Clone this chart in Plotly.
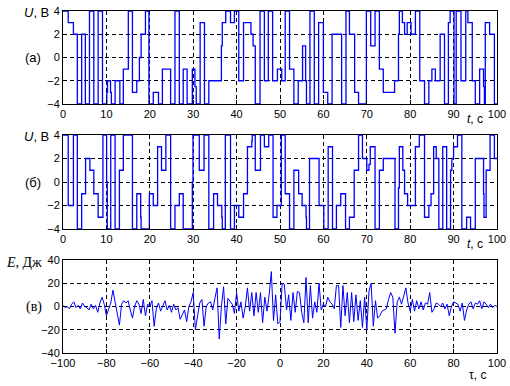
import plotly.graph_objects as go

# ---------------- data ----------------
# panel (а): step signal, change times and levels
t_a = [0, 1.2, 2.4, 3.3, 4.3, 5.15, 6.1, 7.1, 8.1, 9.1, 10.1, 10.25, 10.95, 11.15, 12.0, 13.1, 13.9,
       15.05, 16.0, 17.0, 17.6, 18.0, 19.0, 19.8, 20.8, 22.0, 22.9, 24.8, 25.8, 26.8, 27.7, 28.6, 29.8,
       30.4, 30.7, 31.6, 32.6, 33.6, 36.5, 36.7, 37.5, 38.6, 39.5, 40.5, 41.6, 43.3, 43.8, 44.3, 45.4,
       46.4, 47.3, 48.3, 49.4, 50.4, 51.2, 52.2, 53.2, 54.2, 55.2, 55.9, 56.1, 56.9, 57.9, 58.9, 60.0,
       61.0, 62.0, 64.2, 65.2, 66.0, 67.2, 68.1, 69.9, 70.9, 71.9, 72.9, 73.8, 76.4, 77.3, 77.5, 78.2,
       78.7, 79.3, 80.2, 81.2, 82.2, 83.3, 84.3, 85.0, 85.8, 86.9, 87.9, 88.8, 89.2, 90.1, 90.6, 91.7,
       92.8, 93.3, 94.3, 95.0, 96.0, 96.9, 97.1, 97.3, 98.3, 99.4]
u_a = [4, 3, 2, -4, 2, -4, 4, -4, 4, -4, -3, -2, -3, -4, -2, -4, -1,
       4, -3, -2, 0, 2, 4, -4, -3, -4, -1, -4, 4, -4, -1, -4, -1,
       -2.5, -4, 3, -4, -2, 1, 3, 4, 3, 4, -2, 3, 2, 1, -4, 4,
       -2, 4, -2, -1, -2, 4, -1, -4, -2, 1, -2, -4, 4, -4, 3, -3,
       -4, 2, -4, 4, 2, -3, -4, 4, 1, 4, -1, -3, -2, 2, 4, 3,
       2, 3, 2, 4, -2, -4, -2, -1, -2, 2, -4, 3, 4, -4, 4, -2,
       4, 3, -2, -4, -1, -2.5, -4, 3, 2, -4]

# panel (б)
t_b = [0, 1.2, 2.4, 3.3, 4.3, 5.2, 6.2, 7.1, 8.1, 9.2, 10.05, 10.2, 11.0, 12.0, 13.0, 13.9, 16.0,
       17.0, 17.9, 18.0, 19.9, 20.8, 21.8, 22.7, 23.7, 24.8, 25.8, 26.8, 27.7, 29.8, 29.95, 31.4, 32.5,
       33.6, 34.7, 35.6, 36.6, 36.7, 37.4, 38.6, 39.5, 40.5, 41.6, 42.5, 43.5, 43.6, 44.3, 45.5, 46.4,
       47.4, 48.4, 49.3, 50.3, 51.2, 52.2, 53.2, 54.3, 55.1, 56.0, 56.1, 56.8, 59.0, 60.1, 61.1, 62.1,
       63.0, 64.0, 65.1, 66.0, 67.1, 68.1, 69.0, 70.0, 70.5, 70.8, 71.9, 72.9, 73.8, 76.5, 77.3, 77.5,
       78.3, 78.7, 79.4, 81.2, 82.1, 83.3, 84.3, 84.8, 85.4, 86.0, 86.6, 87.5, 88.4, 89.3, 89.6, 90.0,
       90.9, 91.9, 93.0, 93.9, 95.0, 96.9, 97.0, 97.5, 98.4, 99.4]
u_b = [4, -2, 4, -4, -1, 2, 1, -1, -3, 4, 0, -4, 4, -4, 1, 4, -4,
       -1, -3, -4, -1, -2, 3, 1, 4, -4, -2, -1, -4, 0, 4, 1, 4,
       -4, -1, -2, -3, -4, 4, -4, -2, -3, -1, 3, 3.5, 4, 1, 4, 3,
       4, -3, -2, 4, -1, -4, 1, -1, -2, -3, -4, 2, -2, -4, 3, -4,
       -2, -1, -4, -3, 1, 4, 2, 1, 1.5, 3, -4, 1, 2, -4, -0.5, 3,
       1, -1, -2, 3, 4, -3, -2, -1, 3, 2, -4, 3, -4, 1, 2, 3,
       4, -4, -3, -4, 2, -1, -3, 1, 4, 2]

# panel (в): E(tau), tau = -100..100 step 1
tau = list(range(-100, 101))
E = [1, -1, 0, -2, 2, 4, -1, 1, -2, 3,
     0, -1, -3, 2, -2, 1, -5, 3, 8, 2,
     -8, -2, 3, 14, 3, -7, -16, 2, 5, 3,
     5, -3, -10, 0, 5, 2, -6, 6, -8, 2,
     0, 5, -17, -2, 3, -4, 0, 5, -3, 1,
     -5, 2, -3, -1, -11, -7, -3, -13, 0, 4,
     12, -20, -8, 3, 6, -17, 0, 3, 4, -3,
     7, 16, -28, 0, 17, -15, 7, 4, 2, -6,
     12, -4, 4, -10, 0, 16, -4, 12, -8, 12,
     -5, 12, -14, 8, -4, 10, 30, -12, 10, -15,
     -13, 20, 19, -3, 10, -12, 12, -5, 13, 12,
     -5, -14, 25, -14, 18, -10, 4, -5, 20, -3,
     2, 0, 8, 4, 2, -2, 18, 18, -18, 18,
     -8, 12, -14, 12, -13, 10, -12, 5, -18, 8,
     -20, 13, 20, -17, 5, -10, -8, -4, -3, -2,
     6, 12, 8, -23, 4, 8, 2, 9, 16, 3,
     -4, 6, -4, 5, -2, 4, -3, 3, 2, 12,
     -5, -2, 3, 2, 0, 3, -2, 2, -8, 0,
     4, 3, 2, -4, 3, -12, -3, 2, 4, -2,
     3, 2, 5, -2, 4, 2, -1, 2, -1, 1,
     0]

t_ticks = list(range(0, 101, 10))
u_ticks = [-4, -2, 0, 2, 4]
tau_ticks = list(range(-100, 101, 20))
E_ticks = [-40, -20, 0, 20, 40]

# ---------------- figure ----------------
W, H = 510, 386
def px(x):
    return x / W
def py(y):
    return 1 - y / H

BLUE = "#0000FF"
fig = go.Figure()
fig.add_trace(go.Scatter(x=t_a + [100], y=u_a + [u_a[-1]], mode="lines",
                         line=dict(color=BLUE, width=1.3, shape="hv"), xaxis="x", yaxis="y"))
fig.add_trace(go.Scatter(x=t_b + [100], y=u_b + [u_b[-1]], mode="lines",
                         line=dict(color=BLUE, width=1.3, shape="hv"), xaxis="x2", yaxis="y2"))
fig.add_trace(go.Scatter(x=tau, y=E, mode="lines",
                         line=dict(color=BLUE, width=1.0), xaxis="x3", yaxis="y3"))

tickfont = dict(family="Arial, Liberation Sans, sans-serif", size=11, color="black")
common = dict(showline=True, linecolor="black", linewidth=1, mirror=True,
              showgrid=True, gridcolor="black", gridwidth=1, griddash="4px,3px",
              zeroline=False, ticks="inside", ticklen=4, tickcolor="black",
              tickfont=tickfont, automargin=False)

xdom = [px(63), px(497)]
dom_a = [py(104), py(11)]
dom_b = [py(229), py(135)]
dom_c = [py(353), py(260)]

fig.update_layout(
    width=W, height=H, margin=dict(l=0, r=0, t=0, b=0, autoexpand=False),
    paper_bgcolor="white", plot_bgcolor="white", showlegend=False,
    xaxis=dict(domain=xdom, anchor="y", range=[0, 100], tickvals=t_ticks, **common),
    yaxis=dict(domain=dom_a, anchor="x", range=[-4, 4], tickvals=u_ticks, **common),
    xaxis2=dict(domain=xdom, anchor="y2", range=[0, 100], tickvals=t_ticks, **common),
    yaxis2=dict(domain=dom_b, anchor="x2", range=[-4, 4], tickvals=u_ticks, **common),
    xaxis3=dict(domain=xdom, anchor="y3", range=[-100, 100], tickvals=tau_ticks, **common),
    yaxis3=dict(domain=dom_c, anchor="x3", range=[-40, 40], tickvals=E_ticks, **common),
)

sans = dict(family="Arial, Liberation Sans, sans-serif", size=13, color="black")
serif = dict(family="Times New Roman, Liberation Serif, serif", size=14, color="black")
anns = [
    ("<i>U</i>, В", 51, 12, "right", sans),
    ("(а)", 33, 58, "center", sans),
    ("<i>t</i>, с", 475, 119, "center", dict(sans, size=12)),
    ("<i>U</i>, В", 51, 137, "right", sans),
    ("(б)", 33, 182, "center", sans),
    ("<i>t</i>, с", 475, 244, "center", dict(sans, size=12)),
    ("<i>E</i>, Дж", 44, 262, "right", serif),
    ("(в)", 34, 307, "center", serif),
    ("τ, с", 477, 375, "center", dict(sans, size=12)),
]
for text, x, y, xa, f in anns:
    fig.add_annotation(text=text, x=px(x), y=py(y), xref="paper", yref="paper",
                       xanchor=xa, yanchor="middle", showarrow=False, font=f)

fig.write_html("out.html")
